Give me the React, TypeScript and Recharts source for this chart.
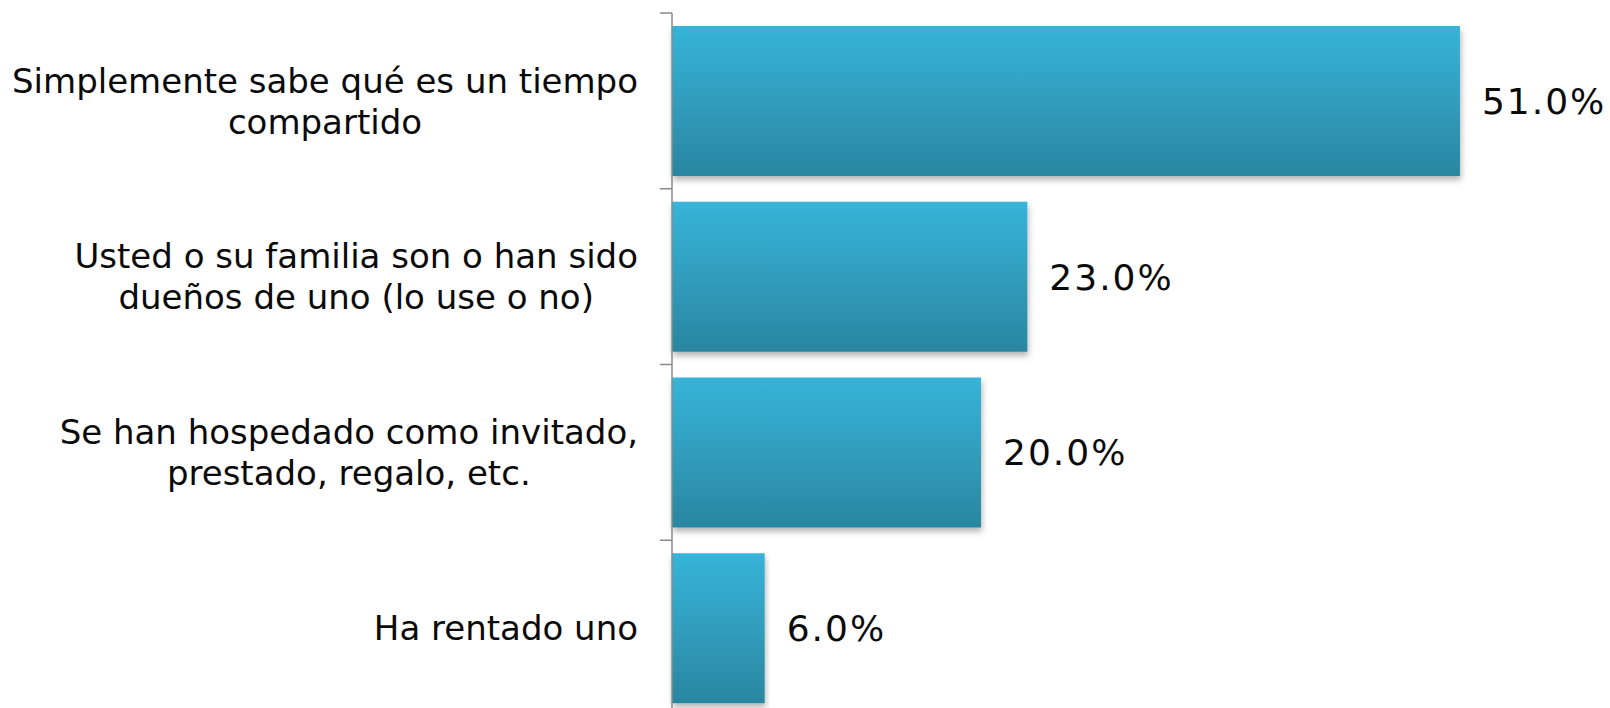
import React from "react";
import { BarChart, Bar, XAxis, YAxis, LabelList } from "recharts";

const categories = [
  "Simplemente sabe qué es un tiempo\ncompartido",
  "Usted o su familia son o han sido\ndueños de uno (lo use o no)",
  "Se han hospedado como invitado,\nprestado, regalo, etc.",
  "Ha rentado uno",
];
const values = [51, 23, 20, 6];
const xDomain = [0, 60];

const data = categories.map((name, i) => ({ name, value: values[i] }));

const WIDTH = 1610;
const HEIGHT = 720;
const MARGIN = { top: 13, right: 11, bottom: 4, left: 0 };
const AXIS_W = 672;
const BAND = (HEIGHT - MARGIN.top - MARGIN.bottom) / categories.length;
const FONT = "'DejaVu Sans', Verdana, sans-serif";
const LABEL_SIZE = 34;
const LINE_H = 41;

let ctx: CanvasRenderingContext2D | null = null;
const measure = (s: string) => {
  if (!ctx) ctx = document.createElement("canvas").getContext("2d");
  if (!ctx) return s.length * LABEL_SIZE * 0.55;
  ctx.font = `${LABEL_SIZE}px 'DejaVu Sans'`;
  return ctx.measureText(s).width;
};

const CategoryTick = (props: any) => {
  const { y, payload, index } = props;
  const lines: string[] = String(payload.value).split("\n");
  const right = AXIS_W - 34;
  const maxW = Math.max(...lines.map(measure));
  const cx = right - maxW / 2;
  const firstY = y - ((lines.length - 1) * LINE_H) / 2;
  return (
    <g>
      <line x1={AXIS_W - 12} x2={AXIS_W} y1={y - BAND / 2} y2={y - BAND / 2} stroke="#8a8a8a" strokeWidth={1.5} />
      {index === categories.length - 1 && (
        <line x1={AXIS_W - 12} x2={AXIS_W} y1={y + BAND / 2} y2={y + BAND / 2} stroke="#8a8a8a" strokeWidth={1.5} />
      )}
      {lines.map((ln, i) => (
        <text
          key={i}
          x={cx}
          y={firstY + i * LINE_H}
          dy="0.36em"
          textAnchor="middle"
          fontSize={LABEL_SIZE}
          fontFamily={FONT}
          fill="#0a0a0a"
        >
          {ln}
        </text>
      ))}
    </g>
  );
};

const App: React.FC = () => {
  return (
    <div
      style={{
        position: "absolute",
        top: 0,
        left: 0,
        width: WIDTH,
        height: 708,
        overflow: "hidden",
        background: "#fff",
        fontFamily: FONT,
      }}
    >
      <BarChart width={WIDTH} height={HEIGHT} data={data} layout="vertical" margin={MARGIN} barCategoryGap={13}>
        <defs>
          <linearGradient id="barGrad" x1="0" y1="0" x2="0" y2="1">
            <stop offset="0%" stopColor="#37b4d9" />
            <stop offset="100%" stopColor="#2a86a0" />
          </linearGradient>
          <filter id="barShadow" x="-5%" y="-10%" width="110%" height="125%">
            <feDropShadow dx="1" dy="4" stdDeviation="3" floodColor="#000" floodOpacity="0.3" />
          </filter>
        </defs>
        <XAxis type="number" domain={xDomain} hide />
        <YAxis
          type="category"
          dataKey="name"
          width={AXIS_W}
          axisLine={{ stroke: "#8a8a8a", strokeWidth: 1.5 }}
          tickLine={false}
          tick={<CategoryTick />}
          interval={0}
        />
        <Bar dataKey="value" fill="url(#barGrad)" filter="url(#barShadow)" isAnimationActive={false}>
          <LabelList
            dataKey="value"
            position="right"
            offset={22}
            formatter={(v: any) => `${Number(v).toFixed(1)}%`}
            style={{ fontSize: 36, fontFamily: FONT, fill: "#0a0a0a", letterSpacing: 2 }}
          />
        </Bar>
      </BarChart>
    </div>
  );
};

export default App;
